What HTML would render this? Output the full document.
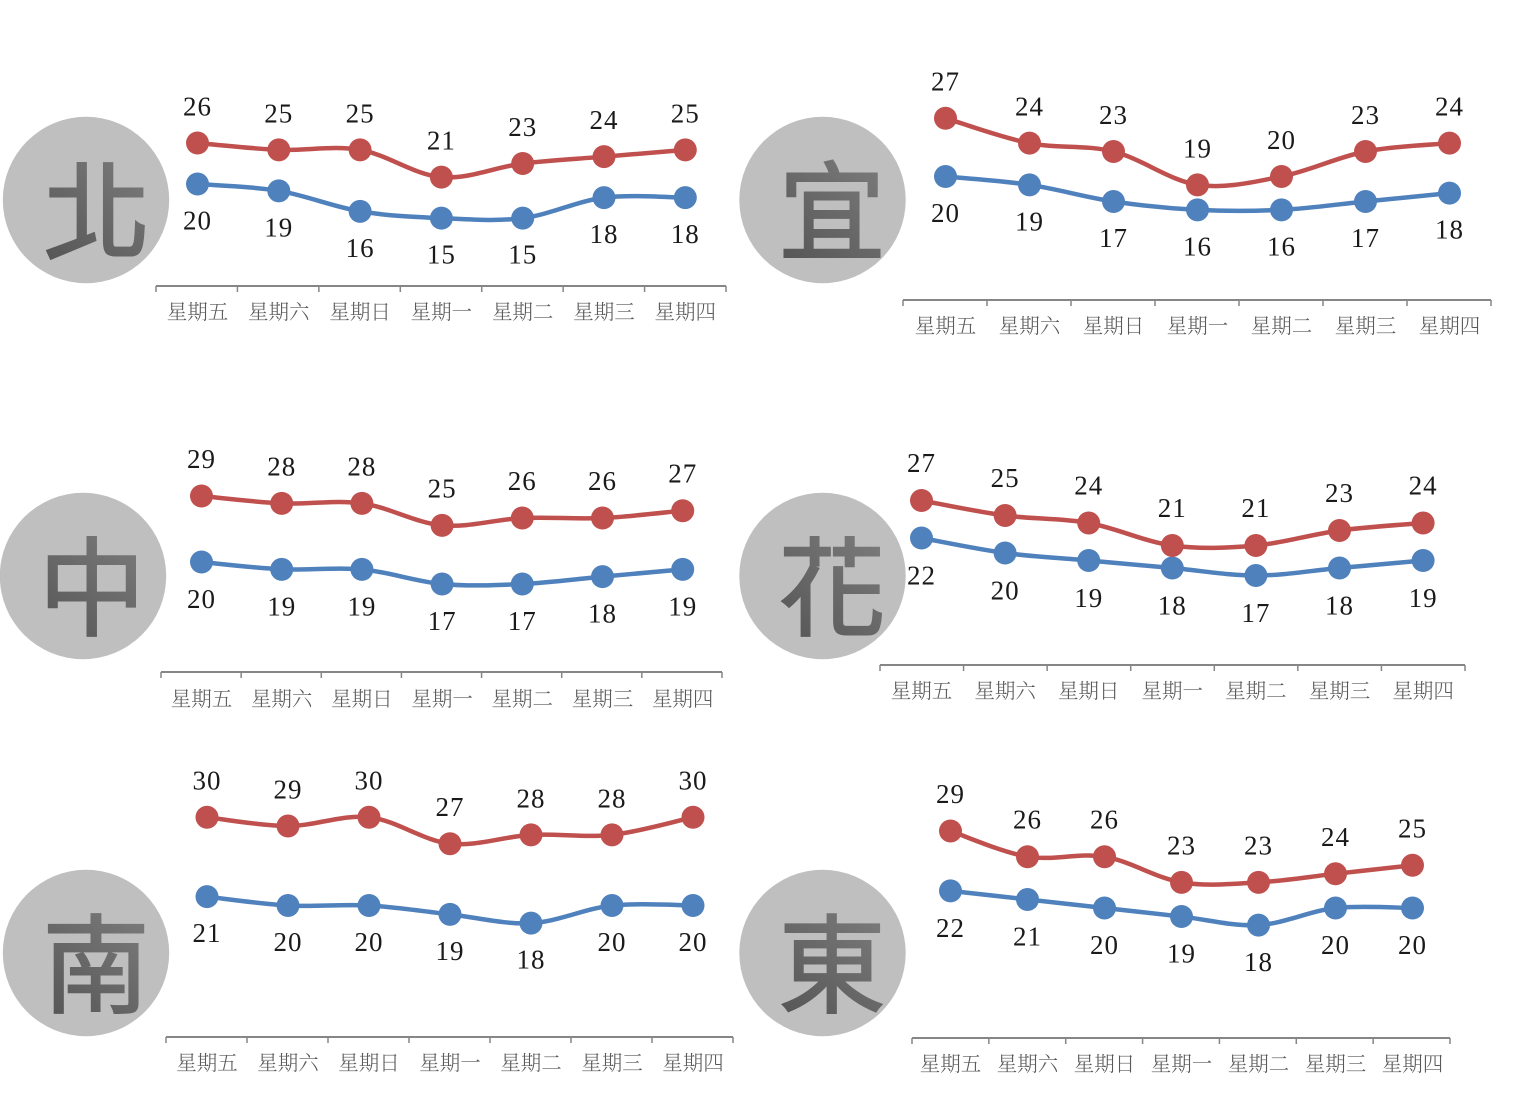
<!DOCTYPE html>
<html lang="zh-Hant">
<head>
<meta charset="utf-8">
<title>Weekly temperature by region</title>
<style>
html,body{margin:0;padding:0;background:#fff;}
svg{display:block;}
.val{font-family:"Liberation Serif","Noto Serif CJK SC",serif;font-size:27px;letter-spacing:1px;fill:#1a1a1a;text-anchor:middle;dominant-baseline:central;}
.cat{font-family:"Noto Serif CJK SC",serif;font-size:20.5px;font-weight:300;fill:#595959;text-anchor:middle;dominant-baseline:central;}
.glyph{font-family:"Noto Sans CJK TC",sans-serif;font-size:107px;font-weight:400;stroke-width:2px;text-anchor:middle;dominant-baseline:central;}
</style>
</head>
<body>
<svg id="chart" xmlns="http://www.w3.org/2000/svg" width="1522" height="1106" viewBox="0 0 1522 1106">
<defs>
<linearGradient id="glyphFill" x1="0.8" y1="0" x2="0.2" y2="1">
<stop offset="0" stop-color="#7f7f7f"/>
<stop offset="1" stop-color="#555555"/>
</linearGradient>
</defs>
</svg>
<script>
const categories = ['星期五','星期六','星期日','星期一','星期二','星期三','星期四'];
const beiHigh = [26,25,25,21,23,24,25];
const beiLow = [20,19,16,15,15,18,18];
const yiHigh = [27,24,23,19,20,23,24];
const yiLow = [20,19,17,16,16,17,18];
const zhongHigh = [29,28,28,25,26,26,27];
const zhongLow = [20,19,19,17,17,18,19];
const huaHigh = [27,25,24,21,21,23,24];
const huaLow = [22,20,19,18,17,18,19];
const nanHigh = [30,29,30,27,28,28,30];
const nanLow = [21,20,20,19,18,20,20];
const dongHigh = [29,26,26,23,23,24,25];
const dongLow = [22,21,20,19,18,20,20];

const panels = [
  {id:'north',label:'北',high:beiHigh,low:beiLow,cx:86,cy:200,gx:97,gy:204.5,x0:197.5,dx:81.3,y20:184,unit:6.83,ax0:156,ax1:726,ay:286,ly:310,off:36.5},
  {id:'yilan',label:'宜',high:yiHigh,low:yiLow,cx:822.5,cy:200,gx:832,gy:204.5,x0:945.5,dx:84,y20:176.5,unit:8.33,ax0:903,ax1:1491,ay:300,ly:324,off:36.5},
  {id:'central',label:'中',high:zhongHigh,low:zhongLow,cx:83,cy:576,gx:92,gy:580.5,x0:201.5,dx:80.2,y20:562,unit:7.33,ax0:161,ax1:722,ay:672,ly:697,off:37},
  {id:'hualien',label:'花',high:huaHigh,low:huaLow,cx:822.5,cy:576,gx:832,gy:580.5,x0:921.5,dx:83.6,y20:553,unit:7.5,ax0:880,ax1:1465,ay:665,ly:689,off:37.5},
  {id:'south',label:'南',high:nanHigh,low:nanLow,cx:86,cy:953,gx:96,gy:957.5,x0:207,dx:81,y20:905.5,unit:8.83,ax0:166,ax1:733,ay:1037,ly:1061,off:36.5},
  {id:'east',label:'東',high:dongHigh,low:dongLow,cx:822.5,cy:953,gx:832,gy:957.5,x0:950.5,dx:77,y20:908,unit:8.55,ax0:912,ax1:1450,ay:1038,ly:1062,off:37}
];

const HIGH_COLOR = '#c0504d';
const LOW_COLOR = '#4f81bd';
const NS = 'http://www.w3.org/2000/svg';
const svg = document.getElementById('chart');

function make(tag, attrs, parent) {
  const el = document.createElementNS(NS, tag);
  for (const k in attrs) el.setAttribute(k, attrs[k]);
  parent.appendChild(el);
  return el;
}

function smoothPath(pts) {
  let d = 'M' + pts[0][0] + ' ' + pts[0][1];
  for (let i = 0; i < pts.length - 1; i++) {
    const p0 = pts[Math.max(i - 1, 0)];
    const p1 = pts[i];
    const p2 = pts[i + 1];
    const p3 = pts[Math.min(i + 2, pts.length - 1)];
    const c1x = p1[0] + (p2[0] - p0[0]) / 6;
    const c1y = p1[1] + (p2[1] - p0[1]) / 6;
    const c2x = p2[0] - (p3[0] - p1[0]) / 6;
    const c2y = p2[1] - (p3[1] - p1[1]) / 6;
    d += ' C' + c1x + ' ' + c1y + ' ' + c2x + ' ' + c2y + ' ' + p2[0] + ' ' + p2[1];
  }
  return d;
}

function drawSeries(group, panel, values, color, kind, xScale, yScale) {
  const pts = values.map((v, i) => [xScale(i), yScale(v)]);
  const line = make('path', {d: smoothPath(pts), fill: 'none', stroke: color, 'stroke-width': 4.5, 'stroke-linecap': 'round'}, group);
  
  
  values.forEach((v, i) => {
    const dot = make('circle', {cx: xScale(i), cy: yScale(v), r: 11.5, fill: color}, group);
    
    
    const offset = kind === 'high' ? -panel.off : panel.off;
    const txt = make('text', {x: xScale(i), y: yScale(v) + offset, class: 'val'}, group);
    
    
    txt.textContent = v;
  });
}

panels.forEach(panel => {
  const xScale = i => panel.x0 + i * panel.dx;
  const yScale = v => panel.y20 - (v - 20) * panel.unit;

  const g = make('g', {}, svg);
  
  

  const badge = make('circle', {cx: panel.cx, cy: panel.cy, r: 83.2, fill: '#bfbfbf'}, g);
  
  

  const glyph = make('text', {x: panel.gx, y: panel.gy, class: 'glyph', fill: 'url(#glyphFill)', stroke: 'url(#glyphFill)'}, g);
  
  
  glyph.textContent = panel.label;

  const axis = make('line', {x1: panel.ax0, x2: panel.ax1, y1: panel.ay, y2: panel.ay, stroke: '#868686', 'stroke-width': 2}, g);
  
  

  const step = (panel.ax1 - panel.ax0) / categories.length;
  for (let i = 0; i <= categories.length; i++) {
    const tx = panel.ax0 + i * step;
    const tick = make('line', {x1: tx, x2: tx, y1: panel.ay, y2: panel.ay + 6, stroke: '#868686', 'stroke-width': 1.5}, g);
    
    
  }

  categories.forEach((c, i) => {
    const t = make('text', {x: xScale(i), y: panel.ly, class: 'cat'}, g);
    
    
    t.textContent = c;
  });

  drawSeries(g, panel, panel.low, LOW_COLOR, 'low', xScale, yScale);
  drawSeries(g, panel, panel.high, HIGH_COLOR, 'high', xScale, yScale);
});
</script>
</body>
</html>
